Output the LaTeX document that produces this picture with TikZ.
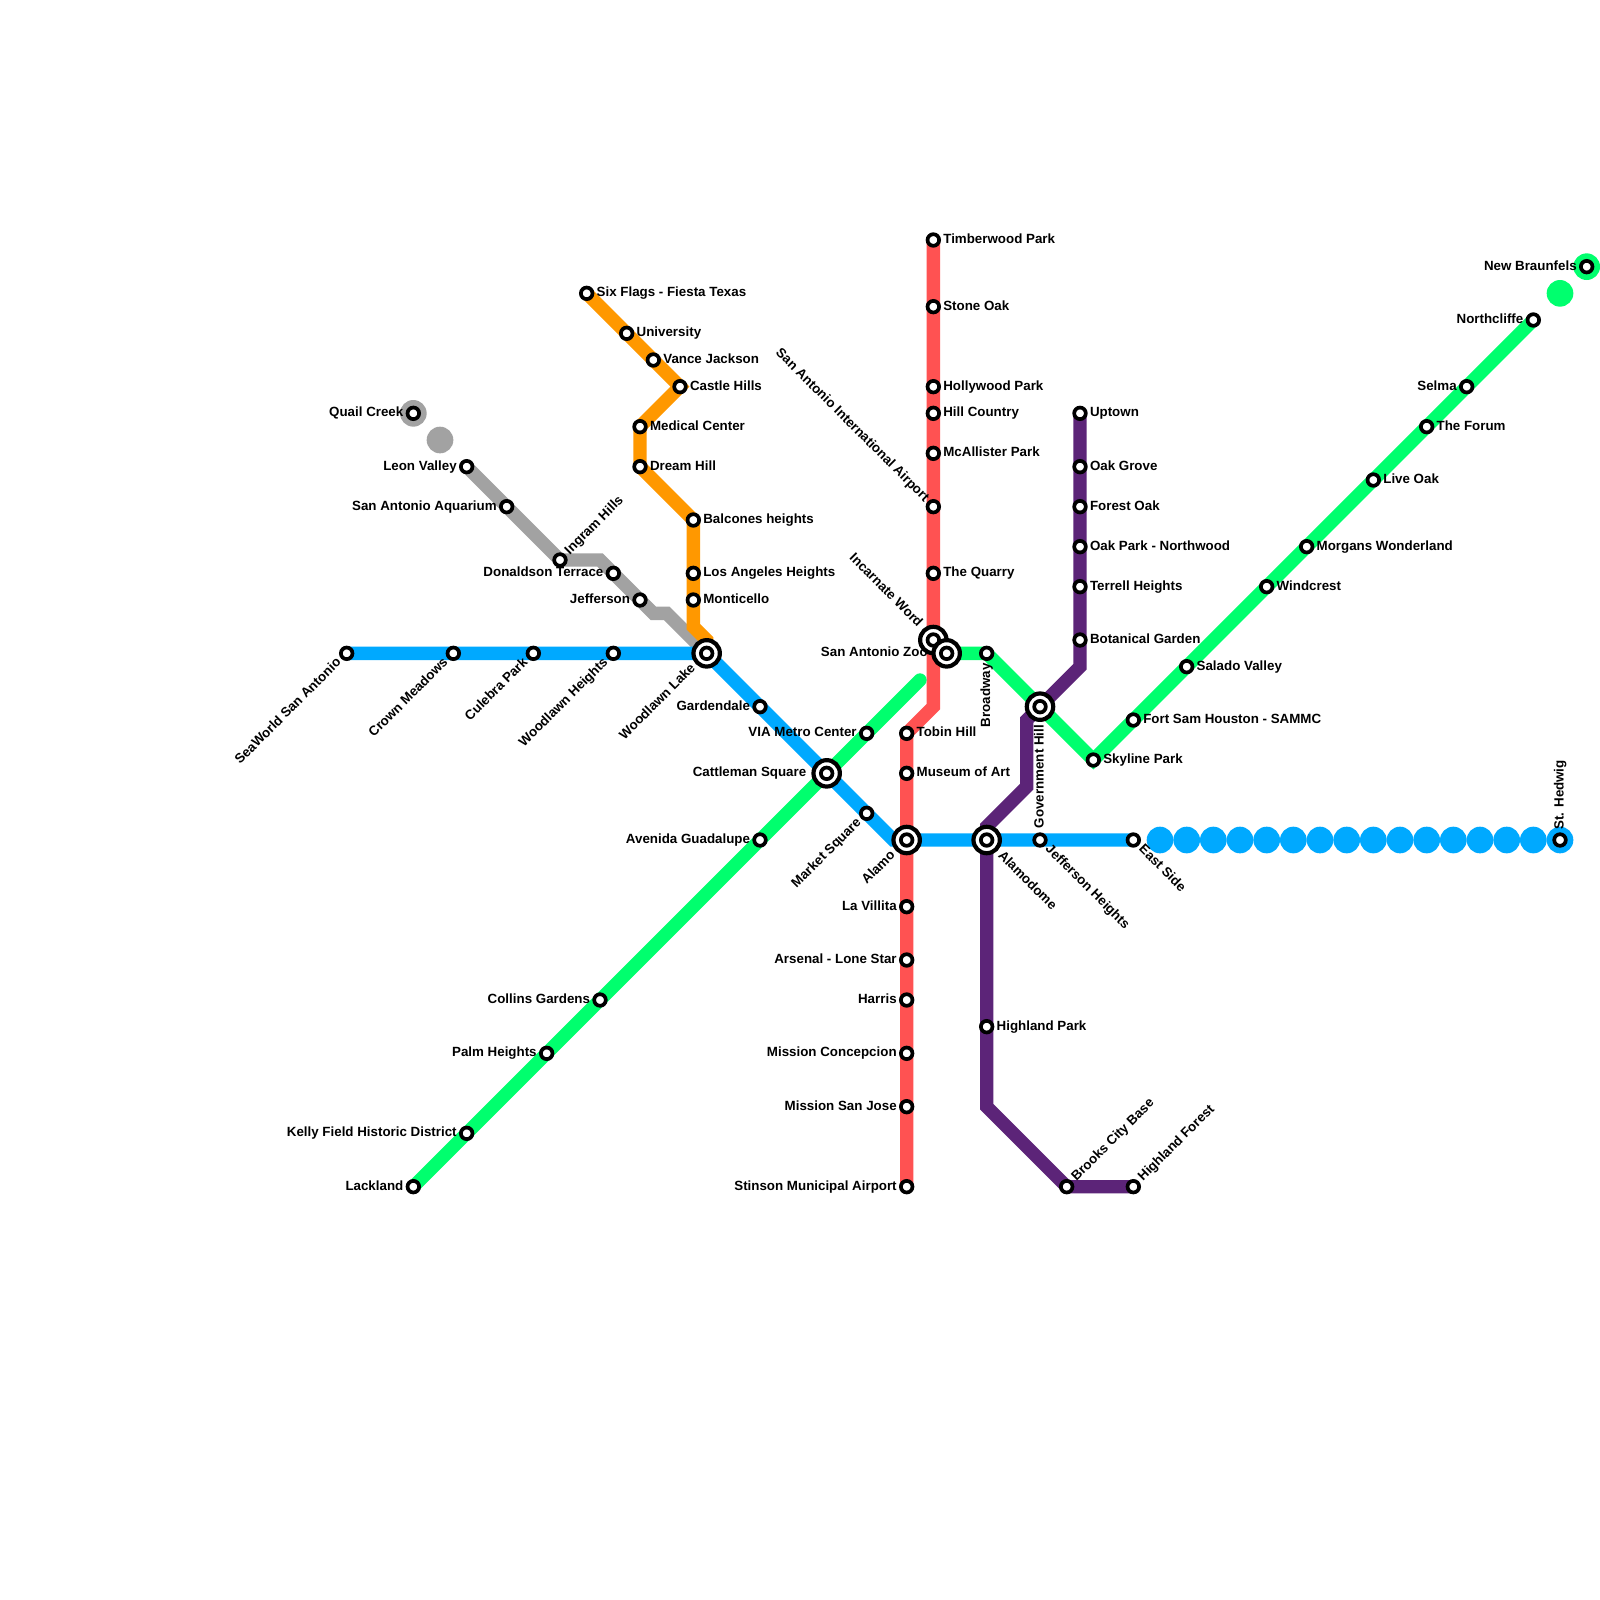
\documentclass[tikz,border=0pt]{standalone}
\usepackage{fontspec}
\setmainfont{Liberation Sans}
\usetikzlibrary{backgrounds}
\definecolor{cblue}{HTML}{00A9FF}
\definecolor{cred}{HTML}{FF5252}
\definecolor{cgreen}{HTML}{00FF6E}
\definecolor{corange}{HTML}{FF9800}
\definecolor{cgray}{HTML}{A2A2A2}
\definecolor{cpurple}{HTML}{5C2478}
\tikzset{
  stnode/.style={circle,draw=black,fill=white,inner sep=0pt,outer sep=0pt,minimum size=5.8pt,line width=1.85pt},
  hubnode/.style={circle,draw=black,fill=white,inner sep=0pt,outer sep=0pt,minimum size=13.2pt,line width=2.1pt},
  lbl/.style={inner sep=0pt,outer sep=0pt,text height=4.75pt,text depth=1.25pt,font=\fontsize{6.67pt}{8pt}\selectfont\bfseries,text=black},
  lR/.style={lbl,anchor=west,xshift=5.0pt},
  lL/.style={lbl,anchor=east,xshift=-5.0pt},
  lDL/.style={lbl,anchor=east,xshift=-3.7pt,yshift=-3.7pt,rotate=45},
  lUR/.style={lbl,anchor=west,xshift=3.7pt,yshift=3.7pt,rotate=45},
  lUL/.style={lbl,anchor=east,xshift=-3.4pt,yshift=3.4pt,rotate=-45},
  lDR/.style={lbl,anchor=west,xshift=3.7pt,yshift=-3.7pt,rotate=-45},
  lD/.style={lbl,anchor=east,yshift=-5pt,rotate=90},
  lU/.style={lbl,anchor=west,yshift=5.2pt,rotate=90},
  hL/.style={lbl,anchor=east,xshift=-10.2pt},
  hDL/.style={lbl,anchor=east,xshift=-6.7pt,yshift=-6.7pt,rotate=45},
  hUL/.style={lbl,anchor=east,xshift=-6.7pt,yshift=7.5pt,rotate=-45},
  hDR/.style={lbl,anchor=west,xshift=6.7pt,yshift=-7pt,rotate=-45},
  hD/.style={lbl,anchor=east,yshift=-9.2pt,rotate=90},
  zooL/.style={lbl,anchor=east,xshift=-9.5pt},
  metro/.style={line width=6.67pt,line cap=round},
  dotb/.style={circle,inner sep=0pt,outer sep=0pt,minimum size=13.33pt}
}
\newcommand{\stn}[5]{\node[stnode] (#1) at (#2,#3) {}; \node[#4] (#1-t) at (#1.center) {#5};}
\newcommand{\hubn}[5]{\node[hubnode] (#1) at (#2,#3) {}; \node[stnode] (#1-c) at (#1.center) {}; \node[#4] (#1-t) at (#1.center) {#5};}
\newcommand{\bdot}[4]{\node[dotb,fill=#4] (#1) at (#2,#3) {};}
\begin{document}
\begin{tikzpicture}[x=13.3333pt,y=-13.3333pt]
\useasboundingbox (0,0) rectangle (60,60);
% bend points
\coordinate (g1) at (22.5,21);
\coordinate (g2) at (24.5,23);
\coordinate (g3) at (25,23);
\coordinate (o1) at (26,23.5);
\coordinate (o2) at (26.5,24);
\coordinate (b1) at (33.5,31.5);
\coordinate (r1) at (35,26.5);
\coordinate (ge) at (34.5,25.5);
\coordinate (p1) at (40.5,25);
\coordinate (p2) at (38.5,27);
\coordinate (p3) at (38.5,29.5);
\coordinate (p4) at (37,31);
\coordinate (p5) at (37,41.5);
% blue line stations
\stn{seaworld}{13}{24.5}{lDL}{SeaWorld San Antonio}
\stn{crown}{17}{24.5}{lDL}{Crown Meadows}
\stn{culebra}{20}{24.5}{lDL}{Culebra Park}
\stn{woodh}{23}{24.5}{lDL}{Woodlawn Heights}
\stn{garden}{28.5}{26.5}{lL}{Gardendale}
\stn{market}{32.5}{30.5}{lDL}{Market Square}
\stn{jeffh}{39}{31.5}{lDR}{Jefferson Heights}
\stn{east}{42.5}{31.5}{lDR}{East Side}
\stn{hedwig}{58.5}{31.5}{lU}{St. Hedwig}
% red
\stn{timber}{35}{9}{lR}{Timberwood Park}
\stn{stone}{35}{11.5}{lR}{Stone Oak}
\stn{holly}{35}{14.5}{lR}{Hollywood Park}
\stn{hill}{35}{15.5}{lR}{Hill Country}
\stn{mcal}{35}{17}{lR}{McAllister Park}
\stn{airport}{35}{19}{lUL}{San Antonio International Airport}
\stn{quarry}{35}{21.5}{lR}{The Quarry}
\stn{tobin}{34}{27.5}{lR}{Tobin Hill}
\stn{museum}{34}{29}{lR}{Museum of Art}
\stn{villita}{34}{34}{lL}{La Villita}
\stn{arsenal}{34}{36}{lL}{Arsenal - Lone Star}
\stn{harris}{34}{37.5}{lL}{Harris}
\stn{concep}{34}{39.5}{lL}{Mission Concepcion}
\stn{sanjose}{34}{41.5}{lL}{Mission San Jose}
\stn{stinson}{34}{44.5}{lL}{Stinson Municipal Airport}
% green
\stn{lackland}{15.5}{44.5}{lL}{Lackland}
\stn{kelly}{17.5}{42.5}{lL}{Kelly Field Historic District}
\stn{palm}{20.5}{39.5}{lL}{Palm Heights}
\stn{collins}{22.5}{37.5}{lL}{Collins Gardens}
\stn{avenida}{28.5}{31.5}{lL}{Avenida Guadalupe}
\stn{via}{32.5}{27.5}{lL}{VIA Metro Center}
\stn{broadway}{37}{24.5}{lD}{Broadway}
\stn{skyline}{41}{28.5}{lR}{Skyline Park}
\stn{fortsam}{42.5}{27}{lR}{Fort Sam Houston - SAMMC}
\stn{salado}{44.5}{25}{lR}{Salado Valley}
\stn{windcrest}{47.5}{22}{lR}{Windcrest}
\stn{morgans}{49}{20.5}{lR}{Morgans Wonderland}
\stn{liveoak}{51.5}{18}{lR}{Live Oak}
\stn{forum}{53.5}{16}{lR}{The Forum}
\stn{selma}{55}{14.5}{lL}{Selma}
\stn{north}{57.5}{12}{lL}{Northcliffe}
\stn{braunfels}{59.5}{10}{lL}{New Braunfels}
% orange
\stn{six}{22}{11}{lR}{Six Flags - Fiesta Texas}
\stn{univ}{23.5}{12.5}{lR}{University}
\stn{vance}{24.5}{13.5}{lR}{Vance Jackson}
\stn{castle}{25.5}{14.5}{lR}{Castle Hills}
\stn{medical}{24}{16}{lR}{Medical Center}
\stn{dream}{24}{17.5}{lR}{Dream Hill}
\stn{balcones}{26}{19.5}{lR}{Balcones heights}
\stn{losang}{26}{21.5}{lR}{Los Angeles Heights}
\stn{monti}{26}{22.5}{lR}{Monticello}
% gray
\stn{quail}{15.5}{15.5}{lL}{Quail Creek}
\stn{leon}{17.5}{17.5}{lL}{Leon Valley}
\stn{aqua}{19}{19}{lL}{San Antonio Aquarium}
\stn{ingram}{21}{21}{lUR}{Ingram Hills}
\stn{donald}{23}{21.5}{lL}{Donaldson Terrace}
\stn{jeff}{24}{22.5}{lL}{Jefferson}
% purple
\stn{uptown}{40.5}{15.5}{lR}{Uptown}
\stn{grove}{40.5}{17.5}{lR}{Oak Grove}
\stn{forest}{40.5}{19}{lR}{Forest Oak}
\stn{oakpark}{40.5}{20.5}{lR}{Oak Park - Northwood}
\stn{terrell}{40.5}{22}{lR}{Terrell Heights}
\stn{botan}{40.5}{24}{lR}{Botanical Garden}
\stn{highpark}{37}{38.5}{lR}{Highland Park}
\stn{brooks}{40}{44.5}{lUR}{Brooks City Base}
\stn{highforest}{42.5}{44.5}{lUR}{Highland Forest}
% interchanges
\hubn{woodl}{26.5}{24.5}{hDL}{Woodlawn Lake}
\hubn{cattle}{31}{29}{hL}{Cattleman Square}
\hubn{alamo}{34}{31.5}{hDL}{Alamo}
\hubn{dome}{37}{31.5}{hDR}{Alamodome}
\hubn{incarn}{35}{24}{hUL}{Incarnate Word}
\hubn{zoo}{35.5}{24.5}{zooL}{San Antonio Zoo}
\hubn{gov}{39}{26.5}{hD}{Government Hill}
% lines and dots below the stations
\begin{scope}[on background layer]
\fill[white] (0,0) rectangle (60,60);
\bdot{dgq}{15.5}{15.5}{cgray}
\bdot{dgl}{16.5}{16.5}{cgray}
\bdot{dgn1}{58.5}{11}{cgreen}
\bdot{dgn2}{59.5}{10}{cgreen}
\foreach \i in {43.5,44.5,...,58.5} {\node[dotb,fill=cblue] (db\i) at (\i,31.5) {};}
\draw[metro,cgray] (leon.center) -- (aqua.center) -- (ingram.center) -- (g1) -- (donald.center) -- (jeff.center) -- (g2) -- (g3) -- (woodl.center);
\draw[metro,corange] (six.center) -- (univ.center) -- (vance.center) -- (castle.center) -- (medical.center) -- (dream.center) -- (balcones.center) -- (losang.center) -- (monti.center) -- (o1) -- (o2) -- (woodl.center);
\draw[metro,cblue] (seaworld.center) -- (crown.center) -- (culebra.center) -- (woodh.center) -- (woodl.center) -- (garden.center) -- (cattle.center) -- (market.center) -- (b1) -- (alamo.center) -- (dome.center) -- (jeffh.center) -- (east.center);
\draw[metro,cred] (timber.center) -- (stone.center) -- (holly.center) -- (hill.center) -- (mcal.center) -- (airport.center) -- (quarry.center) -- (incarn.center) -- (r1) -- (tobin.center) -- (museum.center) -- (alamo.center) -- (villita.center) -- (arsenal.center) -- (harris.center) -- (concep.center) -- (sanjose.center) -- (stinson.center);
\draw[metro,cgreen] (lackland.center) -- (kelly.center) -- (palm.center) -- (collins.center) -- (avenida.center) -- (cattle.center) -- (via.center) -- (ge);
\draw[metro,cgreen] (zoo.center) -- (broadway.center) -- (gov.center) -- (skyline.center) -- (fortsam.center) -- (salado.center) -- (windcrest.center) -- (morgans.center) -- (liveoak.center) -- (forum.center) -- (selma.center) -- (north.center);
\draw[metro,cpurple] (uptown.center) -- (grove.center) -- (forest.center) -- (oakpark.center) -- (terrell.center) -- (botan.center) -- (p1) -- (gov.center) -- (p2) -- (p3) -- (p4) -- (dome.center) -- (highpark.center) -- (p5) -- (brooks.center) -- (highforest.center);
\end{scope}
\end{tikzpicture}
\end{document}
